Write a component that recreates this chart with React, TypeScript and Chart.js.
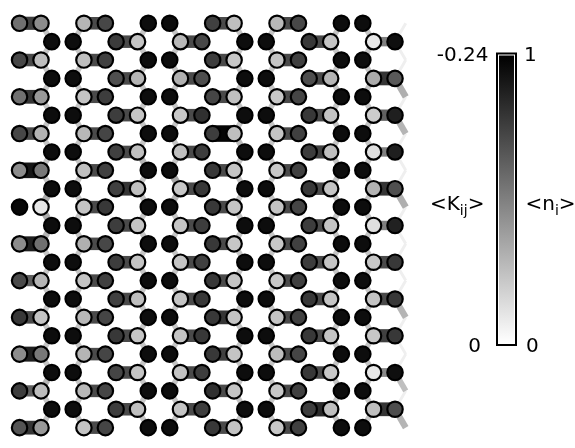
import React, { useEffect, useRef } from "react";
import { Chart, registerables } from "chart.js";

Chart.register(...registerables);

// <n_i> for each site: 23 rows x 12 sites (6 pairs per row)
const siteDensity: number[][] = [
  [0.56, 0.45, 0.29, 0.72, 0.95, 0.95, 0.75, 0.25, 0.28, 0.72, 0.95, 0.95],
  [0.95, 0.95, 0.77, 0.23, 0.28, 0.72, 0.95, 0.95, 0.78, 0.23, 0.09, 0.94],
  [0.72, 0.26, 0.25, 0.75, 0.95, 0.95, 0.76, 0.22, 0.23, 0.75, 0.95, 0.95],
  [0.95, 0.95, 0.69, 0.29, 0.31, 0.70, 0.95, 0.95, 0.70, 0.29, 0.33, 0.65],
  [0.56, 0.40, 0.23, 0.76, 0.95, 0.95, 0.73, 0.25, 0.22, 0.73, 0.95, 0.95],
  [0.95, 0.95, 0.76, 0.23, 0.22, 0.81, 0.95, 0.95, 0.78, 0.23, 0.20, 0.88],
  [0.72, 0.30, 0.28, 0.73, 0.95, 0.95, 0.76, 0.25, 0.23, 0.75, 0.95, 0.95],
  [0.95, 0.95, 0.75, 0.25, 0.25, 0.76, 0.95, 0.95, 0.76, 0.25, 0.12, 0.88],
  [0.45, 0.53, 0.25, 0.75, 0.95, 0.95, 0.78, 0.23, 0.22, 0.75, 0.95, 0.95],
  [0.95, 0.95, 0.75, 0.25, 0.22, 0.78, 0.95, 0.95, 0.78, 0.23, 0.30, 0.69],
  [0.97, 0.10, 0.23, 0.78, 0.95, 0.95, 0.78, 0.23, 0.23, 0.73, 0.95, 0.95],
  [0.95, 0.95, 0.76, 0.23, 0.23, 0.76, 0.95, 0.95, 0.76, 0.23, 0.12, 0.87],
  [0.45, 0.56, 0.31, 0.72, 0.95, 0.95, 0.78, 0.22, 0.22, 0.75, 0.95, 0.95],
  [0.95, 0.95, 0.76, 0.23, 0.23, 0.75, 0.95, 0.95, 0.76, 0.23, 0.22, 0.78],
  [0.71, 0.29, 0.23, 0.75, 0.95, 0.95, 0.78, 0.23, 0.22, 0.75, 0.95, 0.95],
  [0.95, 0.95, 0.75, 0.25, 0.23, 0.78, 0.95, 0.95, 0.78, 0.23, 0.23, 0.78],
  [0.78, 0.23, 0.28, 0.73, 0.95, 0.95, 0.78, 0.23, 0.23, 0.75, 0.95, 0.95],
  [0.95, 0.95, 0.78, 0.23, 0.23, 0.78, 0.95, 0.95, 0.78, 0.23, 0.22, 0.78],
  [0.45, 0.53, 0.29, 0.73, 0.95, 0.95, 0.78, 0.23, 0.26, 0.73, 0.95, 0.95],
  [0.95, 0.95, 0.73, 0.23, 0.23, 0.76, 0.95, 0.95, 0.78, 0.22, 0.09, 0.94],
  [0.76, 0.26, 0.28, 0.73, 0.95, 0.95, 0.81, 0.23, 0.22, 0.75, 0.95, 0.95],
  [0.95, 0.95, 0.76, 0.25, 0.23, 0.76, 0.95, 0.95, 0.76, 0.25, 0.25, 0.70],
  [0.67, 0.40, 0.23, 0.73, 0.95, 0.95, 0.78, 0.23, 0.22, 0.75, 0.95, 0.95],
];

// <K_ij> on the horizontal (intra-pair) bonds: 23 rows x 6 pairs
const pairBondK: number[][] = [
  [0.18, 0.17, 0, 0.17, 0.17, 0],
  [0, 0.17, 0.17, 0, 0.17, 0.12],
  [0.17, 0.17, 0, 0.17, 0.17, 0],
  [0, 0.17, 0.17, 0, 0.17, 0.19],
  [0.19, 0.17, 0, 0.17, 0.17, 0],
  [0, 0.17, 0.17, 0, 0.17, 0.15],
  [0.17, 0.17, 0, 0.235, 0.17, 0],
  [0, 0.17, 0.17, 0, 0.18, 0.12],
  [0.22, 0.17, 0, 0.17, 0.17, 0],
  [0, 0.19, 0.17, 0, 0.17, 0.19],
  [0, 0.17, 0, 0.17, 0.17, 0],
  [0, 0.17, 0.17, 0, 0.17, 0.12],
  [0.21, 0.17, 0, 0.17, 0.17, 0],
  [0, 0.17, 0.17, 0, 0.17, 0.17],
  [0.15, 0.17, 0, 0.17, 0.17, 0],
  [0, 0.17, 0.17, 0, 0.17, 0.17],
  [0.17, 0.17, 0, 0.19, 0.17, 0],
  [0, 0.17, 0.17, 0, 0.17, 0.18],
  [0.21, 0.17, 0, 0.18, 0.17, 0],
  [0, 0.17, 0.17, 0, 0.17, 0.11],
  [0.15, 0.17, 0, 0.17, 0.17, 0],
  [0, 0.17, 0.17, 0, 0.2, 0.19],
  [0.19, 0.17, 0, 0.17, 0.17, 0],
];

// <K_ij> on the zig-zag bonds between row g and row g+1 (22 gaps),
// indexed by the site of the even row (12 per gap); index 0 is the periodic bond
const zigzagBondK: number[][] = [
  [0.015, 0.055, 0.055, 0.01, 0.055, 0.055, 0.01, 0.055, 0.055, 0.01, 0.055, 0.055],
  [0.015, 0.055, 0.055, 0.01, 0.055, 0.055, 0.01, 0.055, 0.055, 0.01, 0.055, 0.055],
  [0.015, 0.055, 0.055, 0.01, 0.055, 0.055, 0.01, 0.055, 0.055, 0.01, 0.055, 0.055],
  [0.075, 0.055, 0.055, 0.01, 0.055, 0.055, 0.01, 0.055, 0.055, 0.01, 0.055, 0.055],
  [0.015, 0.055, 0.055, 0.01, 0.055, 0.055, 0.01, 0.055, 0.055, 0.01, 0.055, 0.055],
  [0.07, 0.055, 0.055, 0.01, 0.055, 0.055, 0.01, 0.055, 0.055, 0.01, 0.055, 0.055],
  [0.015, 0.055, 0.055, 0.01, 0.055, 0.055, 0.01, 0.065, 0.055, 0.01, 0.055, 0.055],
  [0.015, 0.055, 0.055, 0.01, 0.07, 0.055, 0.01, 0.055, 0.055, 0.01, 0.055, 0.055],
  [0.015, 0.055, 0.055, 0.01, 0.055, 0.085, 0.01, 0.055, 0.055, 0.01, 0.055, 0.055],
  [0.075, 0.08, 0.055, 0.01, 0.055, 0.07, 0.01, 0.055, 0.055, 0.01, 0.055, 0.055],
  [0.015, 0.08, 0.055, 0.01, 0.055, 0.055, 0.01, 0.055, 0.055, 0.01, 0.055, 0.055],
  [0.015, 0.07, 0.055, 0.01, 0.055, 0.055, 0.01, 0.055, 0.055, 0.01, 0.055, 0.055],
  [0.015, 0.055, 0.055, 0.01, 0.055, 0.055, 0.01, 0.055, 0.055, 0.01, 0.055, 0.055],
  [0.015, 0.055, 0.055, 0.01, 0.055, 0.055, 0.01, 0.055, 0.055, 0.01, 0.055, 0.055],
  [0.015, 0.055, 0.055, 0.01, 0.055, 0.055, 0.01, 0.055, 0.055, 0.01, 0.055, 0.055],
  [0.07, 0.055, 0.055, 0.01, 0.055, 0.055, 0.01, 0.055, 0.055, 0.01, 0.055, 0.055],
  [0.015, 0.055, 0.055, 0.01, 0.055, 0.055, 0.01, 0.055, 0.055, 0.01, 0.055, 0.055],
  [0.015, 0.055, 0.055, 0.01, 0.055, 0.055, 0.01, 0.055, 0.055, 0.01, 0.055, 0.055],
  [0.015, 0.055, 0.055, 0.01, 0.055, 0.055, 0.01, 0.055, 0.055, 0.01, 0.055, 0.055],
  [0.06, 0.07, 0.055, 0.01, 0.055, 0.055, 0.01, 0.055, 0.055, 0.01, 0.055, 0.055],
  [0.015, 0.055, 0.055, 0.01, 0.055, 0.055, 0.01, 0.055, 0.055, 0.01, 0.055, 0.055],
  [0.07, 0.055, 0.055, 0.01, 0.055, 0.055, 0.01, 0.055, 0.055, 0.01, 0.055, 0.055],
];

const kMax = 0.24;
const kTickLabels = ["-0.24", "0"];
const nTickLabels = ["1", "0"];

function grayFor(v: number, vmax: number): string {
  const t = Math.max(0, Math.min(1, v / vmax));
  const g = Math.round(255 * (1 - t));
  return `rgb(${g},${g},${g})`;
}

// lattice coordinate of a site (row r, site c)
function siteX(r: number, c: number): number {
  return 3 * (2 * (c >> 1) + (r % 2)) + 2 * (c & 1);
}

function buildDatasets() {
  const pts: { x: number; y: number }[] = [];
  const fills: string[] = [];
  siteDensity.forEach((row, r) =>
    row.forEach((n, c) => {
      pts.push({ x: siteX(r, c), y: r });
      fills.push(grayFor(n, 1));
    })
  );
  const bonds: any[] = [];
  const addBond = (x1: number, y1: number, x2: number, y2: number, k: number) => {
    if (k <= 0.005) return;
    bonds.push({
      data: [
        { x: x1, y: y1 },
        { x: x2, y: y2 },
      ],
      showLine: true,
      borderColor: grayFor(k, kMax),
      borderWidth: 2 + 62 * k,
      borderCapStyle: "butt",
      pointRadius: 0,
      pointHoverRadius: 0,
      order: 1,
    });
  };
  pairBondK.forEach((row, r) =>
    row.forEach((k, p) => {
      addBond(siteX(r, 2 * p), r, siteX(r, 2 * p + 1), r, k);
    })
  );
  zigzagBondK.forEach((gap, g) => {
    const evenRow = g % 2 === 0 ? g : g + 1;
    const oddRow = g % 2 === 0 ? g + 1 : g;
    gap.forEach((k, c) => {
      const xe = siteX(evenRow, c);
      if (c === 0) {
        // periodic bond drawn at the right edge
        addBond(siteX(oddRow, 11), oddRow, xe + 36, evenRow, k);
      } else {
        const xo = c % 2 === 1 ? xe + 1 : xe - 1;
        addBond(xe, evenRow, xo, oddRow, k);
      }
    });
  });
  const sites = {
    data: pts,
    pointRadius: 7.7,
    pointHoverRadius: 7.7,
    pointBackgroundColor: fills,
    pointBorderColor: "#000",
    pointBorderWidth: 2.2,
    showLine: false,
    order: 0,
  };
  return [sites, ...bonds];
}

const colorbarPlugin = {
  id: "colorbar",
  afterDraw(chart: any) {
    const ctx = chart.ctx as CanvasRenderingContext2D;
    ctx.save();
    const x0 = 496, y0 = 52.5, w = 21, h = 293.5;
    ctx.fillStyle = "#000";
    ctx.fillRect(x0, y0, w, h);
    ctx.fillStyle = "#fff";
    ctx.fillRect(x0 + 2, y0 + 2, w - 4, h - 4);
    const grad = ctx.createLinearGradient(0, y0 + 3, 0, y0 + h - 3);
    grad.addColorStop(0, "#000");
    grad.addColorStop(1, "#fff");
    ctx.fillStyle = grad;
    ctx.fillRect(x0 + 3, y0 + 3, w - 6, h - 6);

    ctx.fillStyle = "#000";
    ctx.textBaseline = "alphabetic";
    const big = '20px "DejaVu Sans"';
    const small = '14px "DejaVu Sans"';
    ctx.font = big;
    ctx.textAlign = "right";
    ctx.fillText(kTickLabels[0], 488.5, 61);
    ctx.fillText(kTickLabels[1], 481, 352);
    ctx.textAlign = "left";
    ctx.fillText(nTickLabels[0], 524, 61);
    ctx.fillText(nTickLabels[1], 526, 352);

    // <K_ij>
    let x = 430;
    ctx.font = big;
    ctx.fillText("<K", x, 210);
    x += ctx.measureText("<K").width;
    ctx.font = small;
    ctx.fillText("ij", x, 215);
    x += ctx.measureText("ij").width;
    ctx.font = big;
    ctx.fillText(">", x, 210);

    // <n_i>
    x = 525.5;
    ctx.fillText("<n", x, 210);
    x += ctx.measureText("<n").width;
    ctx.font = small;
    ctx.fillText("i", x, 215);
    x += ctx.measureText("i").width;
    ctx.font = big;
    ctx.fillText(">", x, 210);
    ctx.restore();
  },
};

export default function App() {
  const ref = useRef<HTMLCanvasElement | null>(null);
  useEffect(() => {
    if (!ref.current) return;
    const xmin = -0.9;
    const ymin = -14 / 19.23;
    const chart = new Chart(ref.current, {
      type: "scatter",
      data: { datasets: buildDatasets() as any },
      options: {
        animation: false,
        responsive: false,
        events: [],
        layout: { padding: 0 },
        plugins: { legend: { display: false }, tooltip: { enabled: false } },
        scales: {
          x: { type: "linear", display: false, min: xmin, max: xmin + 575 / 11.11 },
          y: { type: "linear", display: false, reverse: true, min: ymin, max: ymin + 448 / 19.23 },
        },
      },
      plugins: [colorbarPlugin],
    });
    return () => chart.destroy();
  }, []);
  return (
    <div style={{ position: "absolute", left: 0, top: 0, width: 575, height: 448, background: "#fff" }}>
      <canvas ref={ref} width={575} height={448} style={{ width: 575, height: 448, display: "block" }} />
    </div>
  );
}
